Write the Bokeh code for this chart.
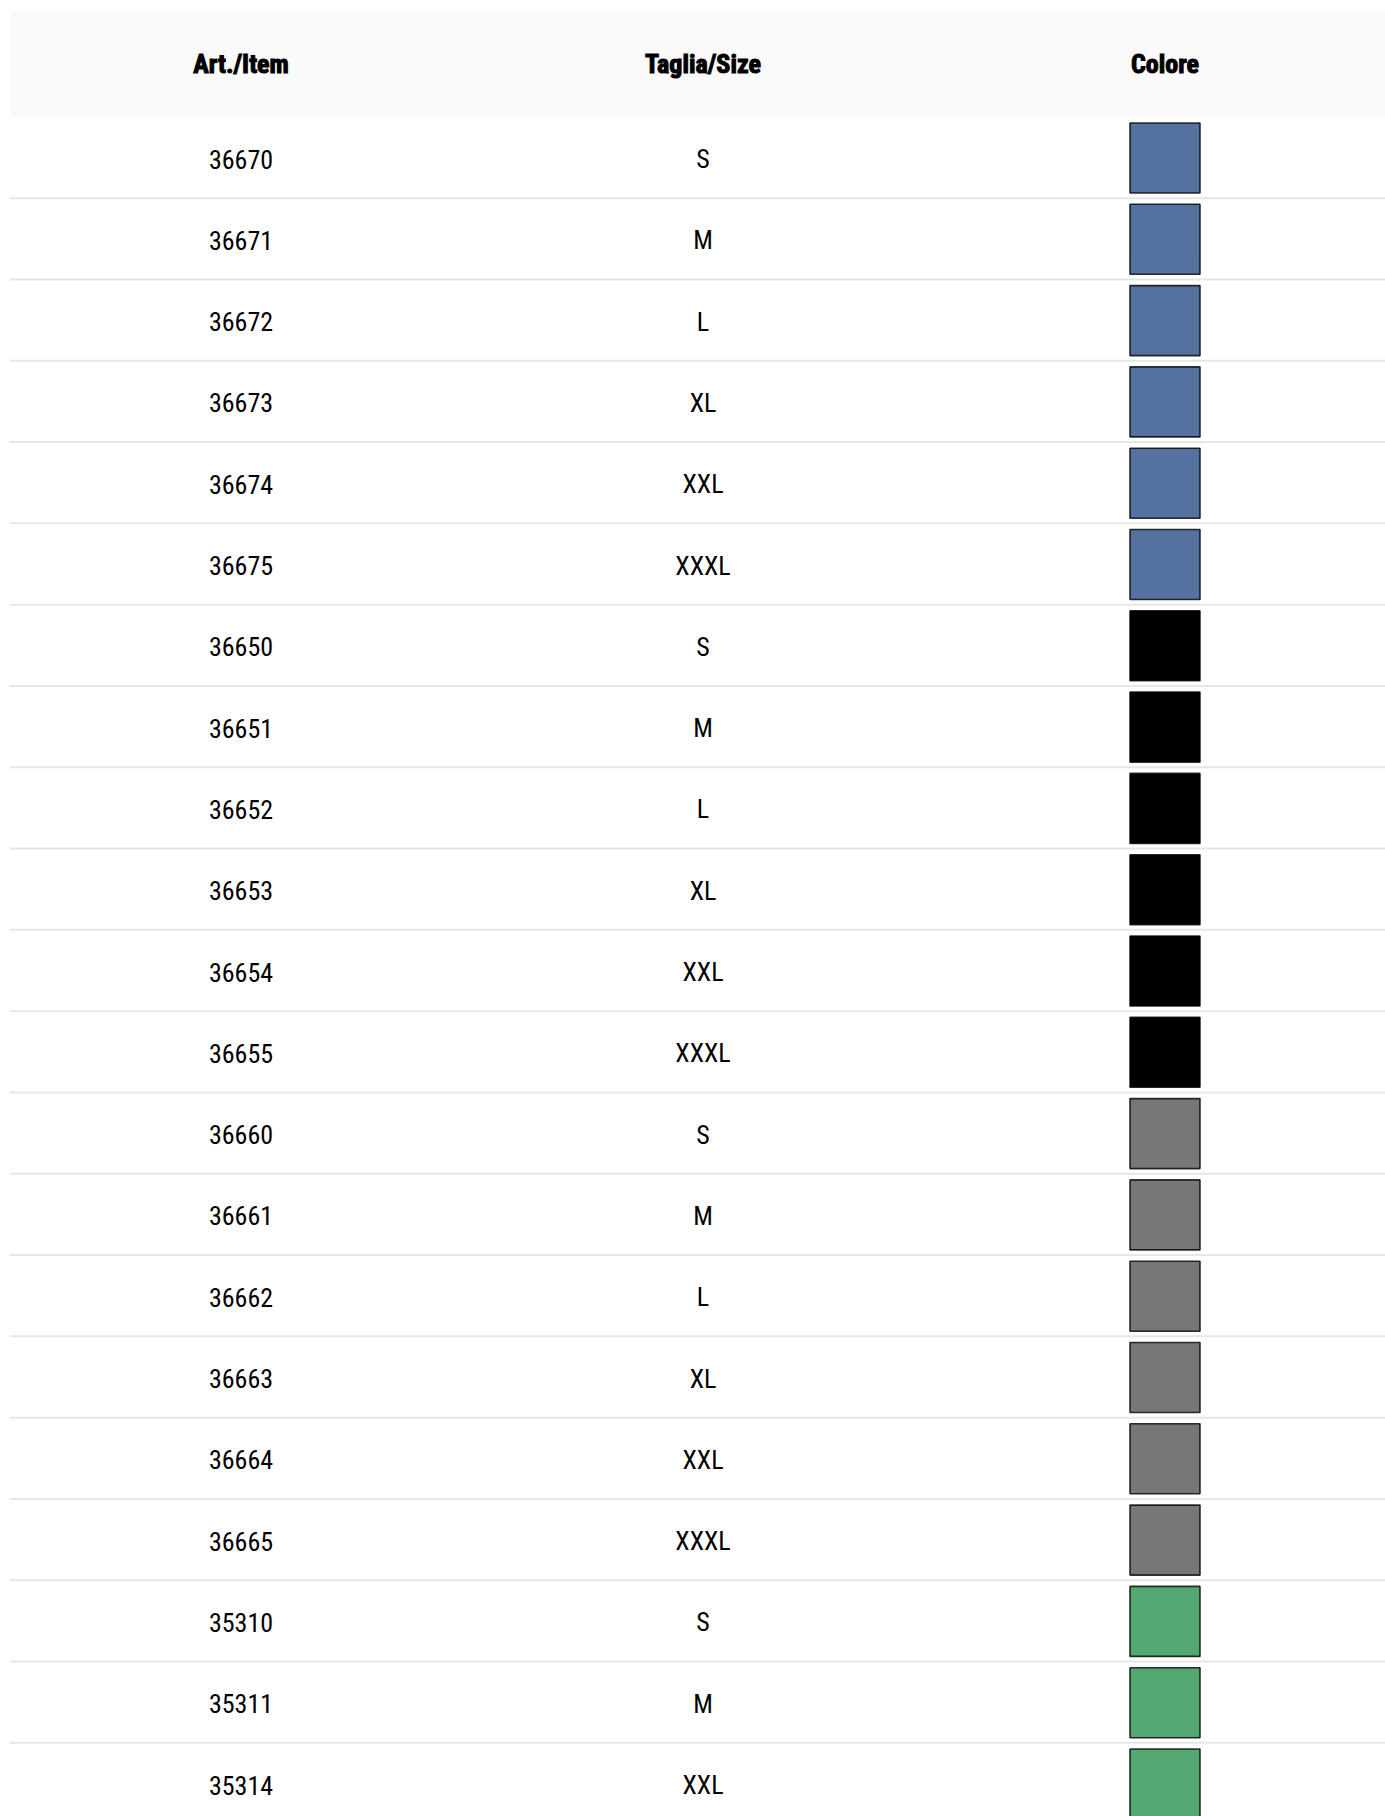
from bokeh.plotting import figure
from bokeh.models import ColumnDataSource, Range1d
from bokeh.core.properties import value
from bokeh.embed import file_html
from bokeh.resources import INLINE

# ---- data ----
headers = ["Art./Item", "Taglia/Size", "Colore"]
items = ["36670", "36671", "36672", "36673", "36674", "36675",
         "36650", "36651", "36652", "36653", "36654", "36655",
         "36660", "36661", "36662", "36663", "36664", "36665",
         "35310", "35311", "35314"]
sizes = ["S", "M", "L", "XL", "XXL", "XXXL",
         "S", "M", "L", "XL", "XXL", "XXXL",
         "S", "M", "L", "XL", "XXL", "XXXL",
         "S", "M", "XXL"]
colours = ["#5571a0"] * 6 + ["#000000"] * 6 + ["#777777"] * 6 + ["#53a871"] * 3

n = len(items)
rows = list(range(n))

# layout constants (pixel geometry of the table)
COL_W = 462.0
ROW_H = 81.3
W, H = 1385, 1816
x_start = -240.5 / COL_W
x_end = x_start + W / COL_W
y_top = -117 / ROW_H
y_bot = (H - 117) / ROW_H

p = figure(width=W, height=H, output_backend="svg", toolbar_location=None,
           x_range=Range1d(x_start, x_end), y_range=Range1d(y_bot, y_top),
           min_border=0, x_axis_location=None, y_axis_location=None,
           background_fill_color="white", border_fill_color="white")
p.outline_line_color = None
p.grid.visible = False

# header band
p.quad(left=[-0.5], right=[x_end + 1], top=[(10 - 117) / ROW_H], bottom=[0],
       fill_color="#fafafa", line_color=None)

src = ColumnDataSource(dict(
    row=rows,
    item=items,
    size=sizes,
    colour=colours,
    c0=[0] * n,
    c1=[1] * n,
    c2=[2] * n,
    mid=[r + 41.5 / ROW_H for r in rows],
    box_y=[r + 0.498 for r in rows],
    sep=[r + 0.992 for r in rows],
))

# row separators
p.segment(x0=-0.5, x1=x_end + 1, y0="sep", y1="sep", source=src,
          line_color="#e6e6e6", line_width=2)

# header texts
p.text(x=[0, 1, 2], y=[(63.0 - 117) / ROW_H] * 3, text=headers,
       text_font=value("Roboto Condensed"), text_font_style="bold",
       text_font_size="26px", text_align="center",
       text_baseline="middle", text_color="#000000",
       text_outline_color="#000000")

# cell texts
for col, field in (("c0", "item"), ("c1", "size")):
    p.text(x=col, y="mid", text=field, source=src,
           text_font=value("Roboto Condensed"), text_font_size="26px",
           text_align="center", text_baseline="middle",
           text_color="#000000")

# colour swatches
p.rect(x="c2", y="box_y", width=70 / COL_W, height=70 / ROW_H, source=src,
       fill_color="colour", line_color="black", line_alpha=0.8,
       line_width=1.6)

open("out.html", "w").write(file_html(p, INLINE))
